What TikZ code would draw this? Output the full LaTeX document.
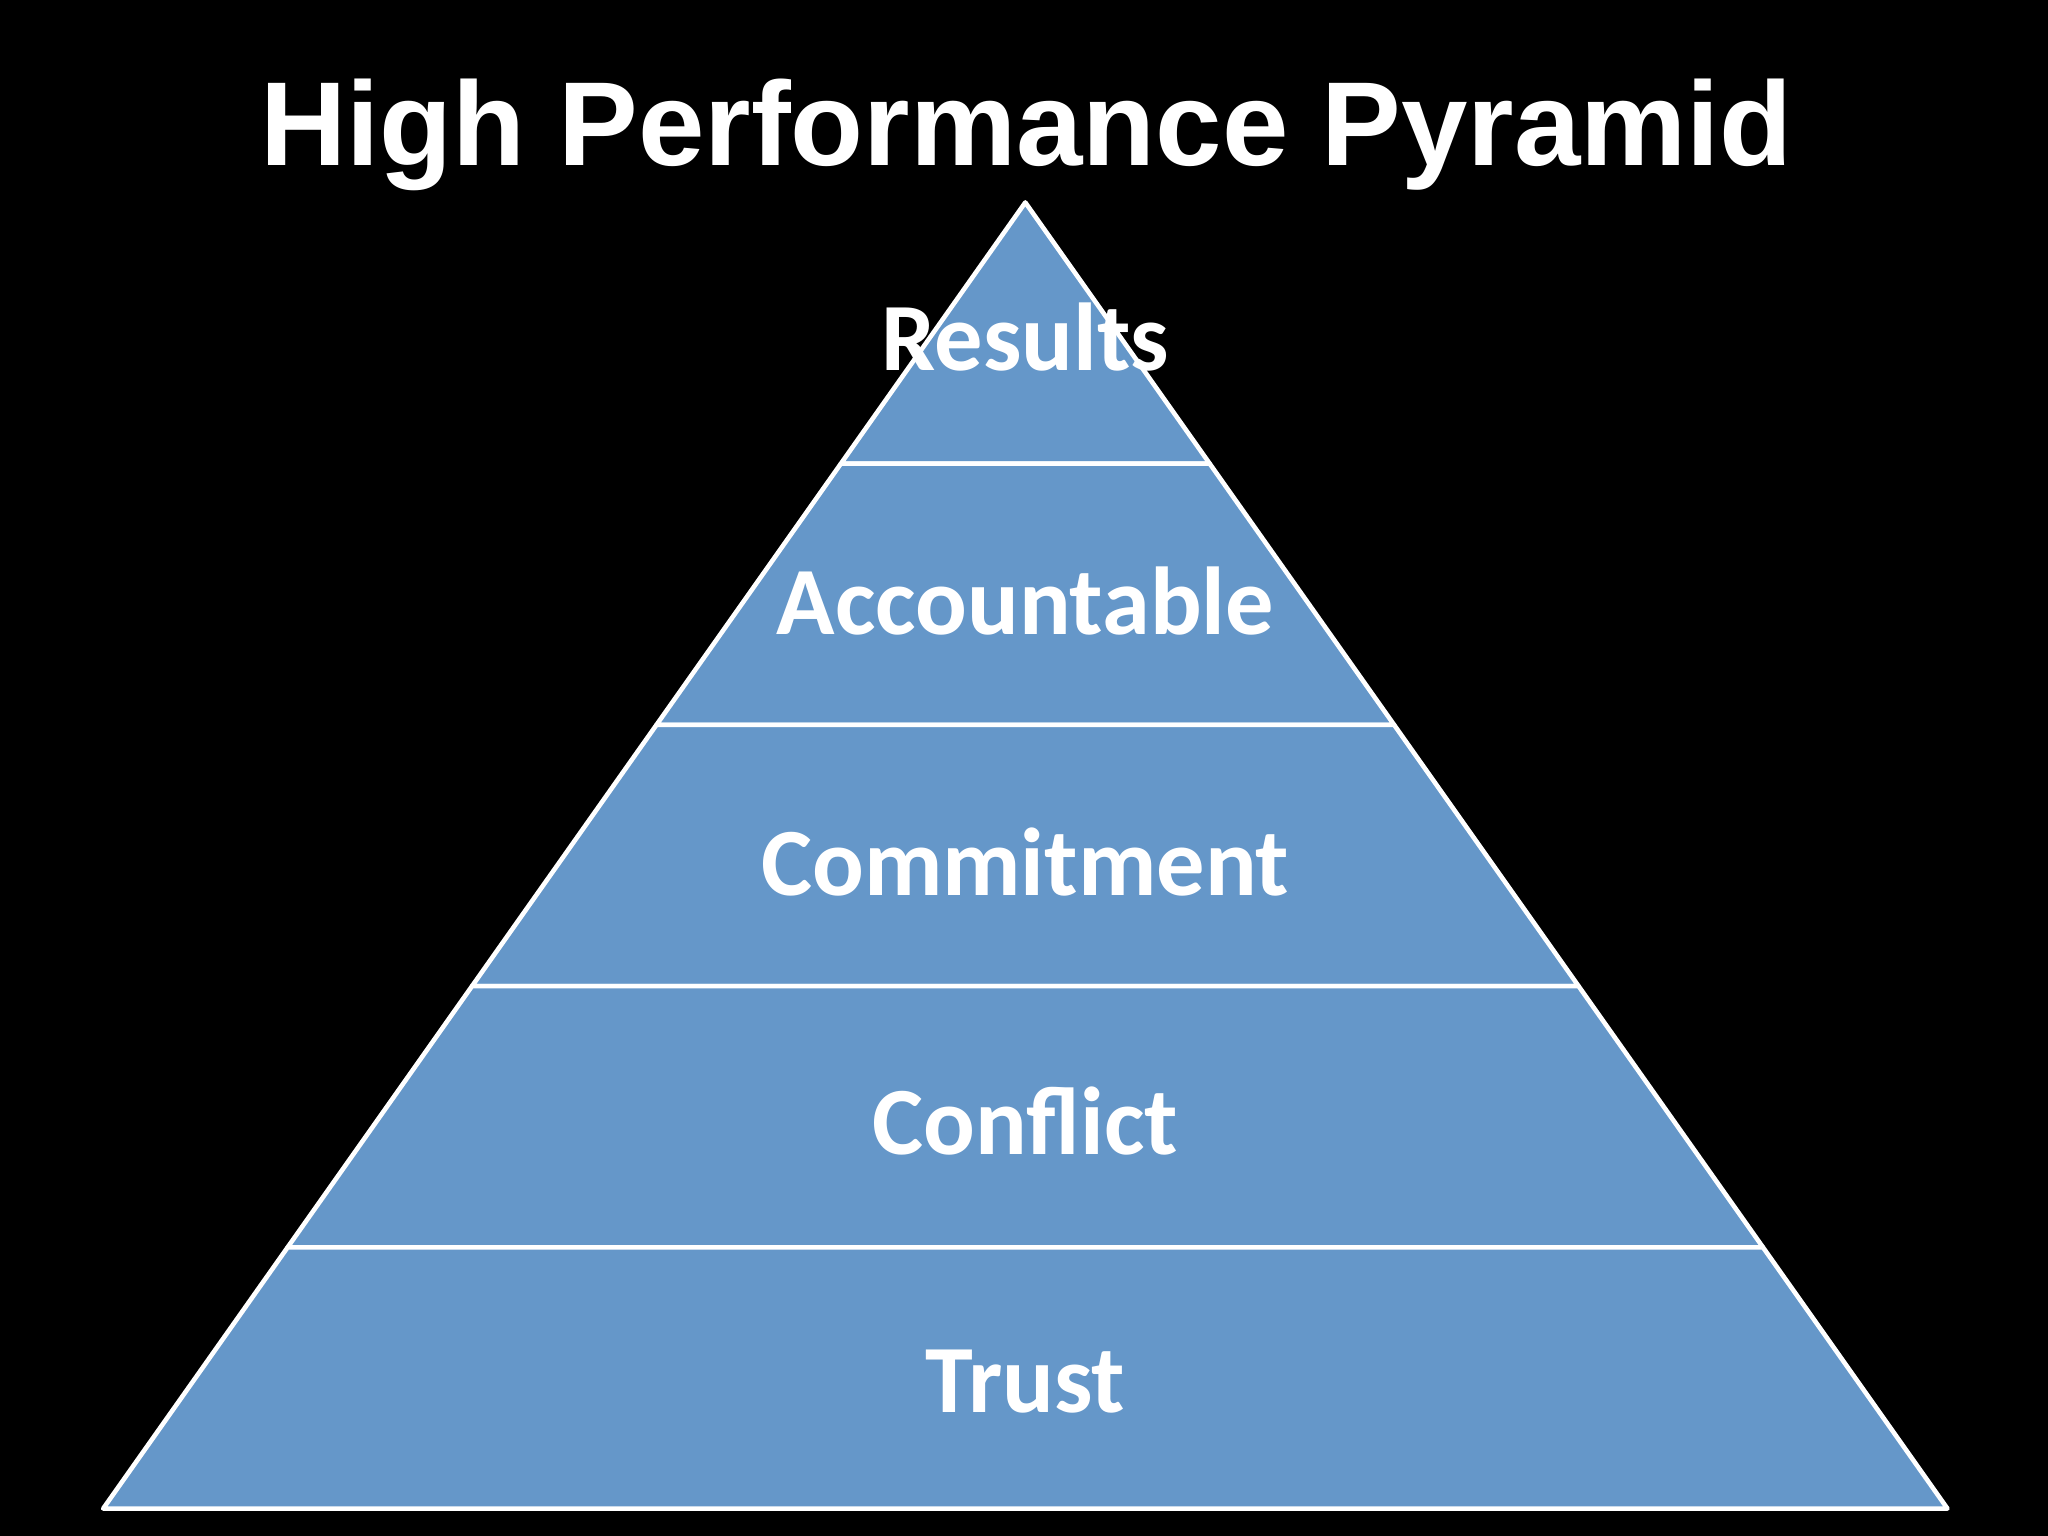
\documentclass[tikz,border=0pt]{standalone}
\usepackage{fontspec}
\setmainfont{Liberation Sans}
\newfontfamily\carl{Carlito}
\definecolor{pyrblue}{RGB}{101,151,201}
\begin{document}
\begin{tikzpicture}[x=0.01cm,y=-0.01cm,
  layer/.style={fill=pyrblue,draw=white,line width=1pt,line join=round},
  lbl/.style={text=white,font=\carl\bfseries\fontsize{21}{24}\selectfont,inner sep=0pt}]
\fill[black] (0,0) rectangle (1568,1176);
\node[text=white,font=\bfseries\fontsize{26}{30}\selectfont,inner sep=0pt] (title) at (786,103) {High Performance Pyramid};
\foreach \i in {0,...,4}{
  \pgfmathsetmacro{\ya}{155+200*\i}
  \pgfmathsetmacro{\yb}{355+200*\i}
  \pgfmathsetmacro{\ha}{(\ya-155)*0.706}
  \pgfmathsetmacro{\hb}{(\yb-155)*0.706}
  \draw[layer] (785-\ha,\ya) -- (785+\ha,\ya) -- (785+\hb,\yb) -- (785-\hb,\yb) -- cycle;
}
\node[lbl] (results) at (785,258) {Results};
\node[lbl] (acc) at (785,460) {Accountable};
\node[lbl] (com) at (785,660) {Commitment};
\node[lbl] (con) at (785,858) {Conflict};
\node[lbl] (trust) at (785,1058) {Trust};
\end{tikzpicture}
\end{document}
